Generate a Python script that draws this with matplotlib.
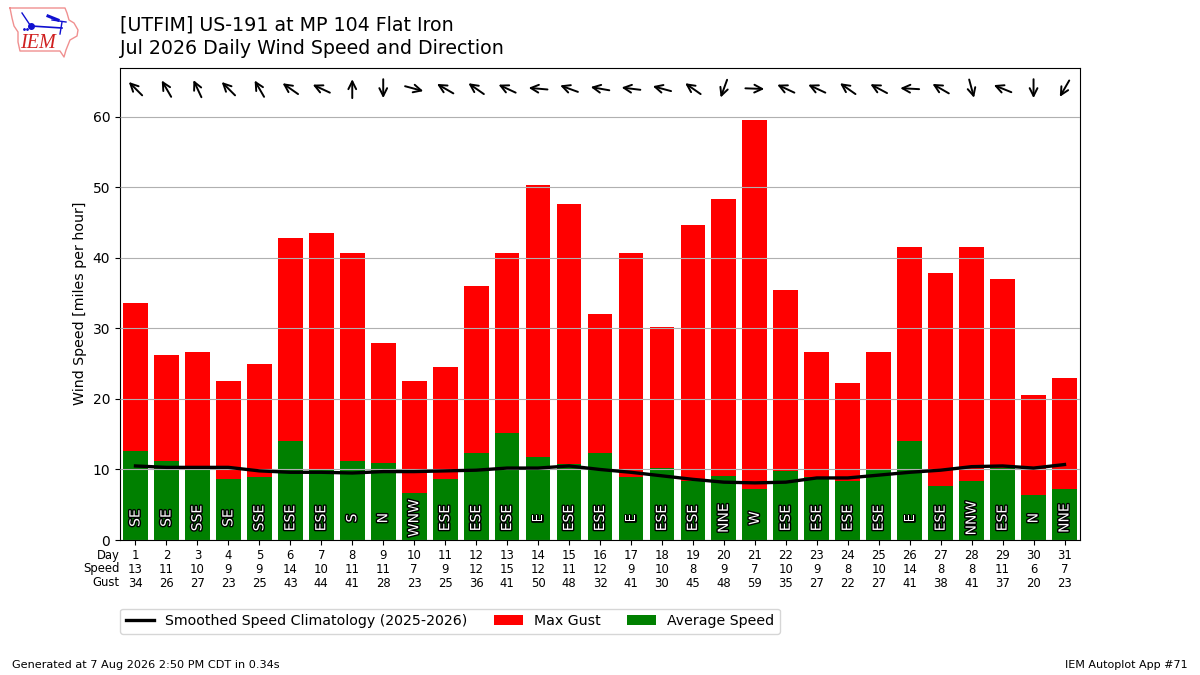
import numpy as np
import matplotlib
matplotlib.use("Agg")
import matplotlib.pyplot as plt
import matplotlib.patheffects as PathEffects
from matplotlib.transforms import offset_copy

# daily values
days = list(range(1, 32))
avg_speed = [12.6, 11.2, 9.9, 8.7, 9.0, 14.1, 10.1, 11.2, 10.9, 6.7, 8.7, 12.4, 15.2, 11.7, 10.8, 12.4,
             9.0, 10.2, 8.3, 9.1, 7.2, 9.8, 8.9, 8.4, 10.0, 14.1, 7.7, 8.4, 10.2, 6.4, 7.2]
max_gust = [33.6, 26.2, 26.7, 22.6, 25.0, 42.8, 43.6, 40.7, 27.9, 22.6, 24.6, 36.0, 40.7, 50.4, 47.6, 32.0,
            40.7, 30.2, 44.6, 48.4, 59.5, 35.4, 26.7, 22.2, 26.7, 41.5, 37.8, 41.5, 37.0, 20.5, 23.0]
climo = [10.5, 10.3, 10.3, 10.3, 9.8, 9.6, 9.6, 9.5, 9.7, 9.7, 9.8, 9.9, 10.2, 10.2, 10.5, 10.0,
         9.6, 9.1, 8.6, 8.2, 8.1, 8.2, 8.8, 8.8, 9.2, 9.6, 9.9, 10.4, 10.5, 10.2, 10.7]
drct_text = ["SE", "SE", "SSE", "SE", "SSE", "ESE", "ESE", "S", "N", "WNW", "ESE", "ESE", "ESE", "E", "ESE", "ESE",
             "E", "ESE", "ESE", "NNE", "W", "ESE", "ESE", "ESE", "ESE", "E", "ESE", "NNW", "ESE", "N", "NNE"]
drct_deg = [135, 150, 155, 135, 150, 125, 115, 180, 0, 285, 120, 125, 115, 95, 110, 100,
            97, 105, 125, 20, 272, 115, 115, 125, 118, 93, 120, 345, 112, 0, 30]
speed_labels = [13, 11, 10, 9, 9, 14, 10, 11, 11, 7, 9, 12, 15, 12, 11, 12,
                9, 10, 8, 9, 7, 10, 9, 8, 10, 14, 8, 8, 11, 6, 7]
gust_labels = [34, 26, 27, 23, 25, 43, 44, 41, 28, 23, 25, 36, 41, 50, 48, 32,
               41, 30, 45, 48, 59, 35, 27, 22, 27, 41, 38, 41, 37, 20, 23]

fig = plt.figure(figsize=(12, 6.75), dpi=100)
ax = fig.add_axes([0.1, 0.2, 0.8, 0.7])

ax.bar(days, max_gust, width=0.8, color="red", label="Max Gust", zorder=2)
ax.bar(days, avg_speed, width=0.8, color="green", label="Average Speed", zorder=2)
ax.plot(days, climo, color="k", lw=2.4, label="Smoothed Speed Climatology (2025-2026)", zorder=4)
ax.grid(True, axis="y", color="#b0b0b0", lw=0.8, zorder=3)
ax.set_axisbelow(False)

ax.set_xlim(0.5, 31.5)
ax.set_ylim(0, 67)
ax.set_yticks(range(0, 61, 10))
ax.set_ylabel("Wind Speed [miles per hour]", fontsize=10.2)
ax.tick_params(axis="y", labelsize=10)
ax.set_xticks(days)
ax.set_xticklabels([f"{d}\n{s}\n{g}" for d, s, g in zip(days, speed_labels, gust_labels)], fontsize=8.4)
for lab in ax.get_xticklabels():
    lab.set_linespacing(1.12)
ax.tick_params(axis="x", length=3.5, pad=3)

# direction labels inside the bars
for d, txt in zip(days, drct_text):
    t = ax.text(d, 3.1, txt, rotation=90, color="white", fontsize=10, ha="center", va="center", zorder=5)
    t.set_path_effects([PathEffects.withStroke(linewidth=2, foreground="k")])

# arrows along the top, pointing where the wind blows to
for d, deg in zip(days, drct_deg):
    dx = -np.sin(np.radians(deg)) * 6.8
    dy = -np.cos(np.radians(deg)) * 6.8
    head = offset_copy(ax.transData, fig=fig, x=dx, y=dy, units="points")
    tail = offset_copy(ax.transData, fig=fig, x=-dx, y=-dy, units="points")
    ax.annotate("", xy=(d, 64.0), xycoords=head, xytext=(d, 64.0), textcoords=tail,
                arrowprops=dict(arrowstyle="->", lw=1.4, color="k", shrinkA=0, shrinkB=0, mutation_scale=14))

# row names to the left of the tick labels
for i, name in enumerate(["Day", "Speed", "Gust"]):
    fig.text(0.0995, (675 - 555 - i * 13.5) / 675, name, fontsize=8.4, ha="right", va="center")

handles, labels = ax.get_legend_handles_labels()
order = [labels.index("Smoothed Speed Climatology (2025-2026)"), labels.index("Max Gust"), labels.index("Average Speed")]
ax.legend([handles[i] for i in order], [labels[i] for i in order], ncol=3, fontsize=10.2, columnspacing=1.88,
          loc="upper left", bbox_to_anchor=(0.0, -0.145), borderaxespad=0)

fig.text(120 / 1200, 1 - 25 / 675, "[UTFIM] US-191 at MP 104 Flat Iron", fontsize=13.68, va="center")
fig.text(120 / 1200, 1 - 48 / 675, "Jul 2026 Daily Wind Speed and Direction", fontsize=13.68, va="center")
fig.text(0.01, 0.0148, "Generated at 7 Aug 2026 2:50 PM CDT in 0.34s", fontsize=8.15, va="center")
fig.text(0.99, 0.0148, "IEM Autoplot App #71", fontsize=8, ha="right", va="center")

# IEM logo
logo = fig.add_axes([0, 1 - 61 / 675, 84 / 1200, 61 / 675])
logo.set_xlim(0, 84)
logo.set_ylim(61, 0)
logo.axis("off")
outline_x = [10, 65, 67, 69, 74, 78, 77, 70, 68, 66, 64, 60, 20, 18, 18, 14, 12, 10]
outline_y = [8, 8, 13, 20, 23, 30, 36, 40, 45, 50, 57, 51, 51, 42, 32, 26, 18, 8]
logo.plot(outline_x, outline_y, color="#f09090", lw=1)
logo.plot([31, 62], [26, 28], color="#1010d0", lw=1.2)
logo.plot([48, 58], [16, 20], color="#1010d0", lw=2.2)
logo.plot([52, 66], [20, 22], color="#1010d0", lw=1)
logo.plot([62, 60], [22, 34], color="#1010d0", lw=1)
logo.plot([22, 30], [13, 25], color="#1010d0", lw=1)
logo.plot([31], [26], "o", color="#1010d0", ms=4)
logo.plot([24, 27], [29, 29], ".", color="#1010d0", ms=2)
logo.text(38, 44, "IEM", color="#d02020", fontsize=14.5, family="Liberation Serif", style="italic", ha="center", va="center")

fig.savefig("out.png", dpi=100)
